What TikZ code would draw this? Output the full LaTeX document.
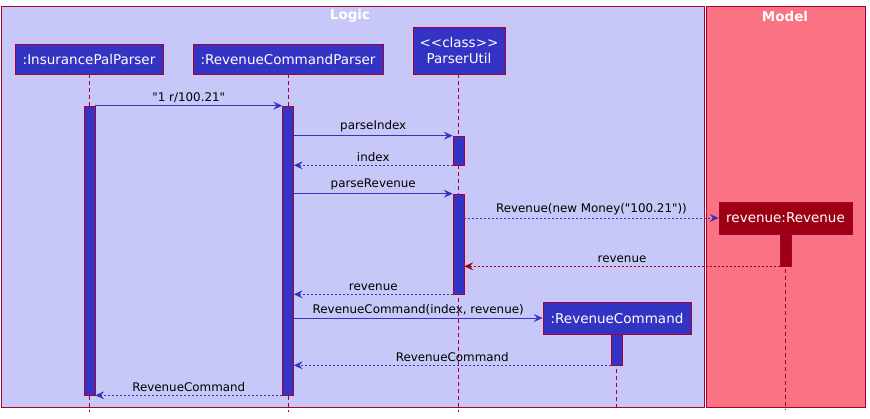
\documentclass[tikz,border=0pt]{standalone}
\usepackage{fontspec}
\setmainfont[Ligatures=TeXOff]{DejaVu Sans}
\usetikzlibrary{arrows.meta}
\definecolor{logicbg}{HTML}{C8C8F8}
\definecolor{modelbg}{HTML}{FA7382}
\definecolor{umlborder}{HTML}{A80036}
\definecolor{umlblue}{HTML}{3333C4}
\definecolor{umlred}{HTML}{9D0012}
\tikzset{
  grp/.style={draw=umlborder, line width=0.9pt},
  grptitle/.style={text=white, font=\bfseries\fontsize{13.5}{15}\selectfont, inner sep=0pt},
  part/.style={draw=umlborder, fill=umlblue, text=white, line width=0.8pt, inner sep=0pt,
    font=\fontsize{13.5}{16}\selectfont, align=center},
  act/.style={draw=umlborder, fill=umlblue, line width=0.6pt, inner sep=0pt, minimum width=11pt},
  life/.style={draw=umlborder, line width=0.6pt, dash pattern=on 4pt off 3pt},
  tip/.style={-{Stealth[length=9pt,width=8pt,inset=3.5pt]}},
  msg/.style={draw=umlblue, line width=0.7pt, tip},
  ret/.style={draw=umlblue, line width=0.7pt, dash pattern=on 2pt off 2pt, tip},
  lbl/.style={above, midway, inner sep=3pt, text=black, font=\fontsize{11.9}{14}\selectfont}
}
\begin{document}
\begin{tikzpicture}[x=1pt, y=-1pt]
\useasboundingbox (0,0) rectangle (870,419);
\fill[white] (0,0) rectangle (870,419);
% groups
\draw[grp, fill=logicbg] (1,6) rectangle (704,407);
\draw[grp, fill=modelbg] (706,6) rectangle (865,407);
\node[grptitle] (tlogic) at (350,16) {Logic};
\node[grptitle] (tmodel) at (785,16) {Model};
% participants
\node[part, minimum width=148pt, minimum height=30pt] (ipp) at (89,59) {:InsurancePalParser};
\node[part, minimum width=190pt, minimum height=30pt] (rcp) at (288,59) {:RevenueCommandParser};
\node[part, minimum width=92pt, minimum height=47pt] (pu) at (459,50.5) {<<class>>\\ParserUtil};
% lifelines (end coordinates)
\coordinate (ippE) at (89,412);
\coordinate (rcpE) at (288,412);
\coordinate (puE) at (458.5,412);
\coordinate (revE) at (785.5,410);
\coordinate (rcE) at (616.5,410);
\draw[life] (ipp.south) -- (ippE);
\draw[life] (rcp.south) -- (rcpE);
\draw[life] (pu.south -| puE) -- (puE);
% created participants
\node[part, fill=umlred, minimum width=133pt, minimum height=32pt] (rev) at (785.5,218) {revenue:Revenue};
\node[part, minimum width=148pt, minimum height=32pt] (rc) at (617,318) {:RevenueCommand};
\draw[life] (rev.south -| revE) -- (revE);
\draw[life] (rc.south -| rcE) -- (rcE);
% activations
\node[act, minimum height=289pt] (ippA) at (89.5,250.5) {};
\node[act, minimum height=289pt] (rcpA) at (288,250.5) {};
\node[act, minimum height=29pt] (puA1) at (458.5,150.5) {};
\node[act, minimum height=100pt] (puA2) at (458.5,244) {};
\node[act, fill=umlred, minimum height=32pt] (revA) at (785.5,250) {};
\node[act, minimum height=31pt] (rcA) at (616.5,349.5) {};
% messages
\draw[msg] (ippA.north east) -- (rcpA.north west) node[lbl] {"1 r/100.21"};
\draw[msg] (rcpA.east |- puA1.north) -- (puA1.north west) node[lbl] {parseIndex};
\draw[ret] (puA1.south west) -- (rcpA.east |- puA1.south) node[lbl] {index};
\draw[msg] (rcpA.east |- puA2.north) -- (puA2.north west) node[lbl] {parseRevenue};
\draw[ret] (puA2.east |- rev.west) -- (rev.west) node[lbl] {Revenue(new Money("100.21"))};
\draw[ret, draw=umlred] (revA.south west) -- (puA2.east |- revA.south) node[lbl] {revenue};
\draw[ret] (puA2.south west) -- (rcpA.east |- puA2.south) node[lbl] {revenue};
\draw[msg] (rcpA.east |- rc.west) -- (rc.west) node[lbl] {RevenueCommand(index, revenue)};
\draw[ret] (rcA.south west) -- (rcpA.east |- rcA.south) node[lbl] {RevenueCommand};
\draw[ret] (rcpA.south west) -- (ippA.south east) node[lbl] {RevenueCommand};
\end{tikzpicture}
\end{document}
